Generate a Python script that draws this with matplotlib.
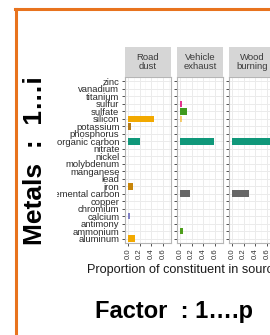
import numpy as np
import matplotlib
matplotlib.use("Agg")
import matplotlib.pyplot as plt
from matplotlib.lines import Line2D
from matplotlib.patches import Rectangle

plt.rcParams['font.family'] = ['Liberation Sans', 'DejaVu Sans']

# constituents, bottom to top (alphabetical, as in ggplot)
constituents = ['aluminum', 'ammonium', 'antimony', 'calcium', 'chromium', 'copper',
                'elemental carbon', 'iron', 'lead', 'manganese', 'molybdenum', 'nickel',
                'nitrate', 'organic carbon', 'phosphorus', 'potassium', 'silicon',
                'sulfate', 'sulfur', 'titanium', 'vanadium', 'zinc']
sources = ['Road\ndust', 'Vehicle\nexhaust', 'Wood\nburning']

# proportions
road_dust = {'aluminum': 0.13, 'calcium': 0.03, 'elemental carbon': 0.01, 'iron': 0.08,
             'organic carbon': 0.20, 'potassium': 0.06, 'silicon': 0.45,
             'sulfate': 0.01, 'sulfur': 0.01, 'titanium': 0.006}
vehicle_exhaust = {'ammonium': 0.06, 'elemental carbon': 0.17, 'nitrate': 0.01,
                   'organic carbon': 0.58, 'silicon': 0.03, 'sulfate': 0.12, 'sulfur': 0.04}
wood_burning = {'elemental carbon': 0.30, 'organic carbon': 0.72,
                'potassium': 0.01, 'sulfate': 0.006}
panels = [road_dust, vehicle_exhaust, wood_burning]

colors = {'aluminum': '#F2A900', 'ammonium': '#4E9E1C', 'calcium': '#8080C4',
          'elemental carbon': '#666666', 'iron': '#C8860A', 'organic carbon': '#10987A',
          'potassium': '#B47A18', 'silicon': '#F2A900', 'sulfate': '#3F9A1E',
          'sulfur': '#E3338E', 'titanium': '#A9B4D8', 'nitrate': '#EC9A80'}
faint = {('Vehicle\nexhaust', 'silicon'): 0.55, ('Wood\nburning', 'potassium'): 0.35,
         ('Wood\nburning', 'sulfate'): 0.35}

W, H = 270, 335
fig = plt.figure(figsize=(W / 100, H / 100), dpi=100)
fig.patch.set_facecolor('white')


def box(x0, y0, x1, y1):
    return [x0 / W, 1 - y1 / H, (x1 - x0) / W, (y1 - y0) / H]


ypos = np.arange(len(constituents))
lefts = [125, 177, 229]
for i, (src, data) in enumerate(zip(sources, panels)):
    x0 = lefts[i]
    ax = fig.add_axes(box(x0, 77, x0 + 46, 243))
    ax.set_facecolor('white')
    vals = [data.get(c, 0) for c in constituents]
    cols = [colors.get(c, '#999999') for c in constituents]
    for y, v, c, name in zip(ypos, vals, cols, constituents):
        if v > 0:
            ax.barh(y, v, height=0.9, color=c, alpha=faint.get((src, name), 1.0),
                    zorder=3)
    ax.set_xlim(-0.05, 0.74)
    ax.set_ylim(-0.6, len(constituents) - 0.4)
    ax.set_xticks([0, 0.2, 0.4, 0.6])
    ax.set_xticklabels(['0.0', '0.2', '0.4', '0.6'], rotation=90, fontsize=5.6,
                       color='#333333')
    ax.set_xticks([0.1, 0.3, 0.5, 0.7], minor=True)
    ax.set_yticks(ypos)
    if i == 0:
        ax.set_yticklabels(constituents, fontsize=6.8, color='#2B2B2B')
    else:
        ax.set_yticklabels([])
        ax.tick_params(axis='y', length=0)
    ax.tick_params(axis='both', which='major', length=2.5, width=0.6, color='#333333',
                   pad=1.5)
    ax.tick_params(axis='x', which='minor', length=0)
    ax.grid(True, which='major', color='#EBEBEB', lw=0.7, zorder=0)
    ax.grid(True, which='minor', axis='x', color='#F4F4F4', lw=0.4, zorder=0)
    ax.set_axisbelow(True)
    for s in ax.spines.values():
        s.set_color('#B5B5B5')
        s.set_linewidth(0.8)

    strip = fig.add_axes(box(x0, 47, x0 + 46, 77))
    strip.set_facecolor('#D6D6D6')
    strip.set_xticks([])
    strip.set_yticks([])
    for s in strip.spines.values():
        s.set_visible(False)
    strip.text(0.5, 0.5, src, ha='center', va='center', fontsize=6.8,
               color='#3A3A3A', linespacing=1.0, transform=strip.transAxes)

fig.text(87 / W, 1 - 273 / H, 'Proportion of constituent in source', fontsize=9.1,
         ha='left', va='baseline', color='#1A1A1A')

# white box that hides the long tick labels behind the side title
fig.patches.append(Rectangle((17 / W, 0), 40 / W, 1 - 12 / H, transform=fig.transFigure,
                             facecolor='white', edgecolor='none', zorder=5))

# orange frame
fig.add_artist(Line2D([16 / W, 16 / W], [0, 1 - 9 / H], color='#E8731E', lw=2.2,
                      transform=fig.transFigure, zorder=6))
fig.add_artist(Line2D([15 / W, 1], [1 - 9 / H, 1 - 9 / H], color='#E8731E', lw=2.2,
                      transform=fig.transFigure, zorder=6))

fig.text(35 / W, 1 - 161 / H, 'Metals  :  1\u2026i', rotation=90, fontsize=19,
         fontweight='bold', ha='center', va='center', zorder=7)
fig.text(174 / W, 1 - 318 / H, 'Factor  : 1\u2026.p', fontsize=17, fontweight='bold',
         ha='center', va='baseline', zorder=7)

fig.savefig('out.png', dpi=100, facecolor='white')
